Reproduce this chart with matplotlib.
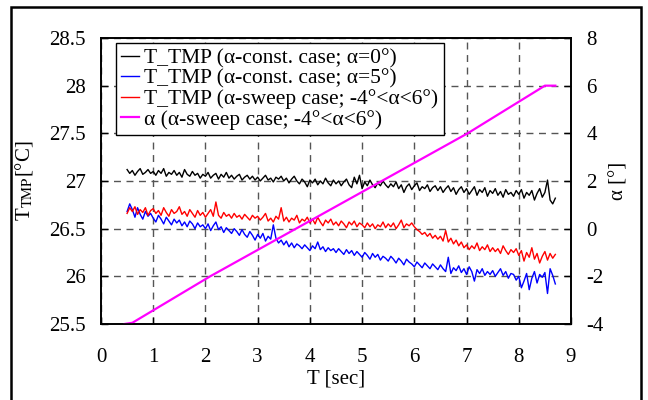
import numpy as np
import matplotlib
matplotlib.use('Agg')
import matplotlib.pyplot as plt
from matplotlib.patches import Rectangle

plt.rcParams['font.family'] = ['Liberation Serif', 'DejaVu Serif']
plt.rcParams['mathtext.fontset'] = 'stix'
plt.rcParams['axes.unicode_minus'] = False
plt.rcParams['font.size'] = 15

# time base, 0.05 s steps
t = np.round(np.arange(0.5, 8.7001, 0.05), 2)

# T_TMP, alpha-const case, alpha=0 deg
t_const0 = [
    27.12, 27.08, 27.11, 27.06, 27.10, 27.13, 27.07, 27.09, 27.12, 27.08,
    27.10, 27.06, 27.11, 27.08, 27.13, 27.05, 27.09, 27.07, 27.11, 27.06,
    27.09, 27.04, 27.12, 27.07, 27.05, 27.10, 27.06, 27.08, 27.03, 27.07,
    27.05, 27.09, 27.03, 27.06, 27.08, 27.02, 27.07, 27.04, 27.09, 27.03,
    27.06, 27.02, 27.05, 27.07, 27.01, 27.04, 27.06, 27.02, 27.05, 27.01,
    27.04, 27.00, 27.03, 27.06, 27.01, 27.03, 26.99, 27.04, 27.02, 27.05,
    27.00, 27.03, 26.98, 27.02, 27.05, 27.00, 26.97, 27.02, 26.99, 26.94,
    27.01, 26.98, 27.02, 26.96, 27.00, 26.97, 27.03, 26.98, 26.95, 27.01,
    26.97, 27.00, 26.95, 26.99, 27.02, 26.96, 26.93, 27.04, 26.97, 27.06,
    26.92, 26.99, 26.95, 27.01, 26.96, 26.93, 26.98, 26.95, 27.00, 26.96,
    26.93, 26.97, 26.94, 26.99, 26.92, 26.96, 26.88, 26.94, 26.97, 26.91,
    26.95, 26.98, 26.90, 26.94, 26.92, 26.96, 26.89, 26.93, 26.95, 26.90,
    26.94, 26.88, 26.92, 26.95, 26.89, 26.93, 26.86, 26.91, 26.94, 26.88,
    26.92, 26.86, 26.90, 26.94, 26.85, 26.91, 26.88, 26.93, 26.84, 26.90,
    26.87, 26.92, 26.85, 26.89, 26.83, 26.91, 26.86, 26.88, 26.84, 26.90,
    26.86, 26.91, 26.82, 26.88, 26.85, 26.90, 26.80, 26.87, 26.92, 26.83,
    26.88, 27.01, 26.80, 26.76, 26.82]

# T_TMP, alpha-const case, alpha=5 deg
t_const5 = [
    26.68, 26.76, 26.70, 26.62, 26.72, 26.65, 26.60, 26.68, 26.63, 26.66,
    26.61, 26.57, 26.64, 26.60, 26.55, 26.62, 26.58, 26.54, 26.60, 26.56,
    26.59, 26.53, 26.57, 26.52, 26.58, 26.55, 26.50, 26.56, 26.52, 26.54,
    26.50, 26.55, 26.48, 26.53, 26.57, 26.49, 26.52, 26.46, 26.51, 26.48,
    26.45, 26.50, 26.47, 26.43, 26.49, 26.44, 26.41, 26.47, 26.43, 26.38,
    26.44, 26.40, 26.45, 26.37, 26.42, 26.39, 26.54, 26.40, 26.35, 26.38,
    26.33, 26.37, 26.31, 26.35, 26.30, 26.34, 26.32, 26.29, 26.33, 26.30,
    26.27, 26.32, 26.29, 26.36, 26.28, 26.31, 26.26, 26.30, 26.27, 26.29,
    26.25, 26.29, 26.26, 26.23, 26.28, 26.24, 26.27, 26.22, 26.26, 26.23,
    26.20, 26.25, 26.22, 26.18, 26.24, 26.20, 26.23, 26.17, 26.21, 26.19,
    26.16, 26.21, 26.18, 26.14, 26.19, 26.16, 26.12, 26.18, 26.15, 26.13,
    26.10, 26.15, 26.12, 26.09, 26.14, 26.11, 26.08, 26.13, 26.10, 26.07,
    26.12, 26.08, 26.05, 26.20, 26.03, 26.09, 26.06, 26.11, 26.04, 26.08,
    26.02, 26.10, 26.05, 25.95, 26.07, 26.03, 26.08, 26.01, 26.05, 26.02,
    26.06, 26.00, 26.04, 26.08, 26.01, 26.05, 25.98, 26.03, 26.02, 25.96,
    26.00, 25.88, 25.95, 26.03, 25.86, 25.98, 26.05, 25.93, 26.02, 25.99,
    26.04, 25.82, 26.08, 26.01, 25.92]

# T_TMP, alpha-sweep case
t_sweep = [
    26.66, 26.72, 26.68, 26.73, 26.65, 26.70, 26.67, 26.72, 26.64, 26.69,
    26.71, 26.66, 26.69, 26.64, 26.72, 26.67, 26.63, 26.70, 26.66, 26.68,
    26.73, 26.65, 26.68, 26.63, 26.70, 26.66, 26.62, 26.69, 26.64, 26.67,
    26.62, 26.66, 26.70, 26.63, 26.78, 26.64, 26.61, 26.67, 26.63, 26.65,
    26.61, 26.66, 26.62, 26.64, 26.60, 26.65, 26.62, 26.59, 26.64, 26.61,
    26.63, 26.59, 26.62, 26.66, 26.58, 26.61, 26.57, 26.63, 26.60, 26.72,
    26.58, 26.62, 26.57, 26.61, 26.59, 26.64, 26.56, 26.60, 26.58, 26.62,
    26.56, 26.60, 26.55, 26.62, 26.57, 26.53, 26.59, 26.56, 26.60, 26.54,
    26.57, 26.53, 26.58, 26.55, 26.51, 26.57, 26.54, 26.58, 26.52, 26.56,
    26.54, 26.51, 26.56, 26.52, 26.55, 26.50, 26.54, 26.52, 26.57, 26.51,
    26.55, 26.52, 26.56, 26.50, 26.54, 26.59, 26.51, 26.55, 26.53, 26.56,
    26.52, 26.49, 26.47, 26.44, 26.46, 26.42, 26.45, 26.40, 26.43, 26.39,
    26.42, 26.37, 26.48, 26.36, 26.40, 26.34, 26.38, 26.32, 26.36, 26.30,
    26.33, 26.28, 26.32, 26.29, 26.35, 26.27, 26.31, 26.28, 26.33, 26.26,
    26.30, 26.26, 26.29, 26.24, 26.32, 26.27, 26.23, 26.28, 26.25, 26.29,
    26.22, 26.27, 26.16, 26.25, 26.20, 26.30, 26.18, 26.24, 26.14, 26.21,
    26.26, 26.17, 26.24, 26.19, 26.23]

# alpha sweep (deg)
t_alpha = [0.45, 0.6, 2.09, 7.02, 8.5, 8.7]
alpha = [-4.0, -3.95, -2.0, 4.0, 6.0, 6.0]

labels = ['T_TMP (α-const. case; α=0°)',
          'T_TMP (α-const. case; α=5°)',
          'T_TMP (α-sweep case; -4°<α<6°)',
          'α (α-sweep case; -4°<α<6°)']

fig = plt.figure(figsize=(6.48, 4.0), dpi=100)
ax = fig.add_axes([101/648, 1-324/400, 470/648, 286/400])
ax2 = ax.twinx()

l1, = ax.plot(t, t_const0, color='black', lw=1.0)
l2, = ax.plot(t, t_const5, color='blue', lw=1.0)
l3, = ax.plot(t, t_sweep, color='red', lw=1.0)
l4, = ax2.plot(t_alpha, alpha, color='#ff00ff', lw=1.6)

ax.set_xlim(0, 9)
ax.set_ylim(25.5, 28.5)
ax2.set_ylim(-4, 8)
ax.set_xticks(range(0, 10))
ax.set_yticks([25.5, 26, 26.5, 27, 27.5, 28, 28.5])
ax.set_yticklabels(['25.5', '26', '26.5', '27', '27.5', '28', '28.5'])
ax2.set_yticks([-4, -2, 0, 2, 4, 6, 8])

ax.grid(True, color='#555555', linestyle=(0, (5, 4)), lw=1.0)
ax.tick_params(direction='in', length=5, width=1, pad=11)
ax.tick_params(axis='x', pad=17)
ax2.tick_params(direction='in', length=5, width=1, pad=11)
for a in (ax, ax2):
    for s in a.spines.values():
        s.set_linewidth(1.2)

ax.set_xlabel('T [sec]', labelpad=2)
ax.set_ylabel('T$_{\\rm TMP}$[°C]', labelpad=10)
ax2.set_ylabel('α [°]', labelpad=4)

leg = ax2.legend([l1, l2, l3, l4], labels, loc='upper left',
                 bbox_to_anchor=(0.032, 0.983), borderaxespad=0,
                 handlelength=0.8, handletextpad=0.25, labelspacing=0.02,
                 borderpad=0.25, fancybox=False, framealpha=1,
                 edgecolor='black', fontsize=15.5)
leg.get_frame().set_linewidth(1.0)

fig.patches.append(Rectangle((11/648, -0.05), 630/648, 1.05 - 7/400,
                             transform=fig.transFigure, fill=False,
                             edgecolor='black', lw=1.8))

fig.savefig('out.png', dpi=100)
